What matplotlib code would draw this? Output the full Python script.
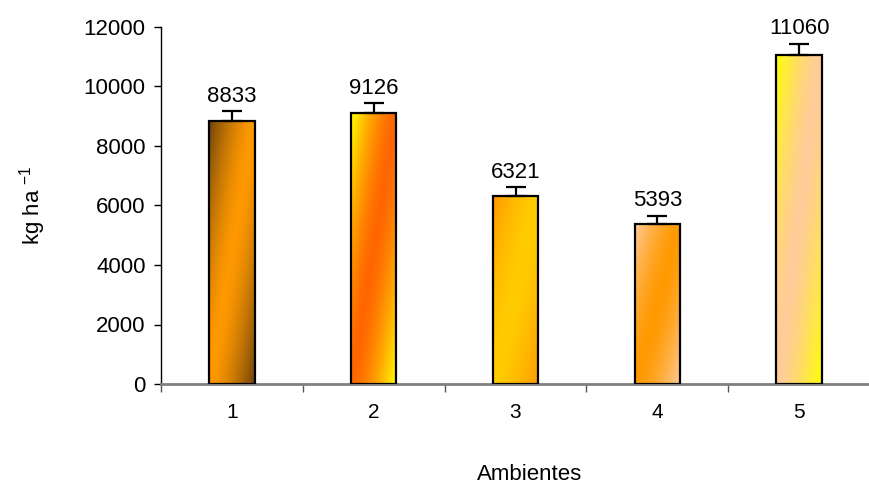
import numpy as np
import matplotlib
matplotlib.use("Agg")
import matplotlib.pyplot as plt
from matplotlib.colors import to_rgb

plt.rcParams['font.family'] = ['Liberation Sans', 'DejaVu Sans']
plt.rcParams['mathtext.default'] = 'regular'

# Data
ambientes = ['1', '2', '3', '4', '5']
rendimiento = [8833, 9126, 6321, 5393, 11060]
error = [330, 320, 300, 270, 380]

# two-colour diagonal gradients (edge colour, centre colour) per bar
gradientes = [
    ('#70440a', '#ff9900'),
    ('#ffff00', '#ff6600'),
    ('#ff9900', '#ffcc00'),
    ('#ffcc99', '#ff9900'),
    ('#ffff00', '#ffcc99'),
]


def gradient_image(c_edge, c_mid, ny=200, nx=60):
    u = np.linspace(0, 1, nx)[None, :]
    v = np.linspace(0, 1, ny)[:, None]
    s = u + v
    w = np.clip(1 - np.abs(s - 1) ** 1.5, 0, 1)[..., None]
    e = np.array(to_rgb(c_edge))
    m = np.array(to_rgb(c_mid))
    return e * (1 - w) + m * w


fig = plt.figure(figsize=(8.7, 4.86), dpi=100)
ax = fig.add_axes([161 / 870, 1 - 384 / 486, (870 - 161) / 870, (384 - 27) / 486])

x = np.arange(1, len(ambientes) + 1)
width = 0.32
bars = ax.bar(x, rendimiento, width=width, facecolor='none', edgecolor='black',
              linewidth=1.6, zorder=3)

for bar, (ce, cm) in zip(bars, gradientes):
    x0, y0 = bar.get_x(), bar.get_y()
    img = ax.imshow(gradient_image(ce, cm), extent=[x0, x0 + bar.get_width(), y0, y0 + bar.get_height()],
                    aspect='auto', origin='upper', zorder=2, interpolation='bilinear')
    img.set_clip_path(bar)

ax.errorbar(x, rendimiento, yerr=[np.zeros(len(error)), error], fmt='none',
            ecolor='black', elinewidth=1.6, capsize=7, capthick=1.6, zorder=4)

for xi, val, err in zip(x, rendimiento, error):
    ax.annotate(str(val), (xi, val + err), xytext=(0, 3), textcoords='offset points',
                ha='center', va='bottom', fontsize=16)

ax.set_xlim(0.5, 0.5 + (870 - 161) / 144)
ax.set_ylim(0, 12000)
ax.set_yticks(np.arange(0, 12001, 2000))
ax.tick_params(axis='y', labelsize=16, length=5, width=1, direction='out', pad=6)

# boundary ticks (no labels) and centred labels
ax.set_xticks(np.arange(0.5, 6.0, 1.0))
ax.set_xticklabels([])
ax.set_xticks(x, minor=True)
ax.set_xticklabels(ambientes, minor=True)
ax.tick_params(axis='x', which='major', length=6, width=1, color='#555555')
ax.tick_params(axis='x', which='minor', length=0, labelsize=15, pad=14)

ax.spines['top'].set_visible(False)
ax.spines['right'].set_visible(False)
ax.spines['left'].set_linewidth(1.0)
ax.spines['bottom'].set_color('#808080')
ax.spines['bottom'].set_linewidth(2)

ax.set_ylabel('kg ha $^{-1}$', fontsize=16, labelpad=26)
fig.text(530 / 870, 1 - 474 / 486, 'Ambientes', ha='center', va='center', fontsize=16)

fig.savefig('out.png', dpi=100)
